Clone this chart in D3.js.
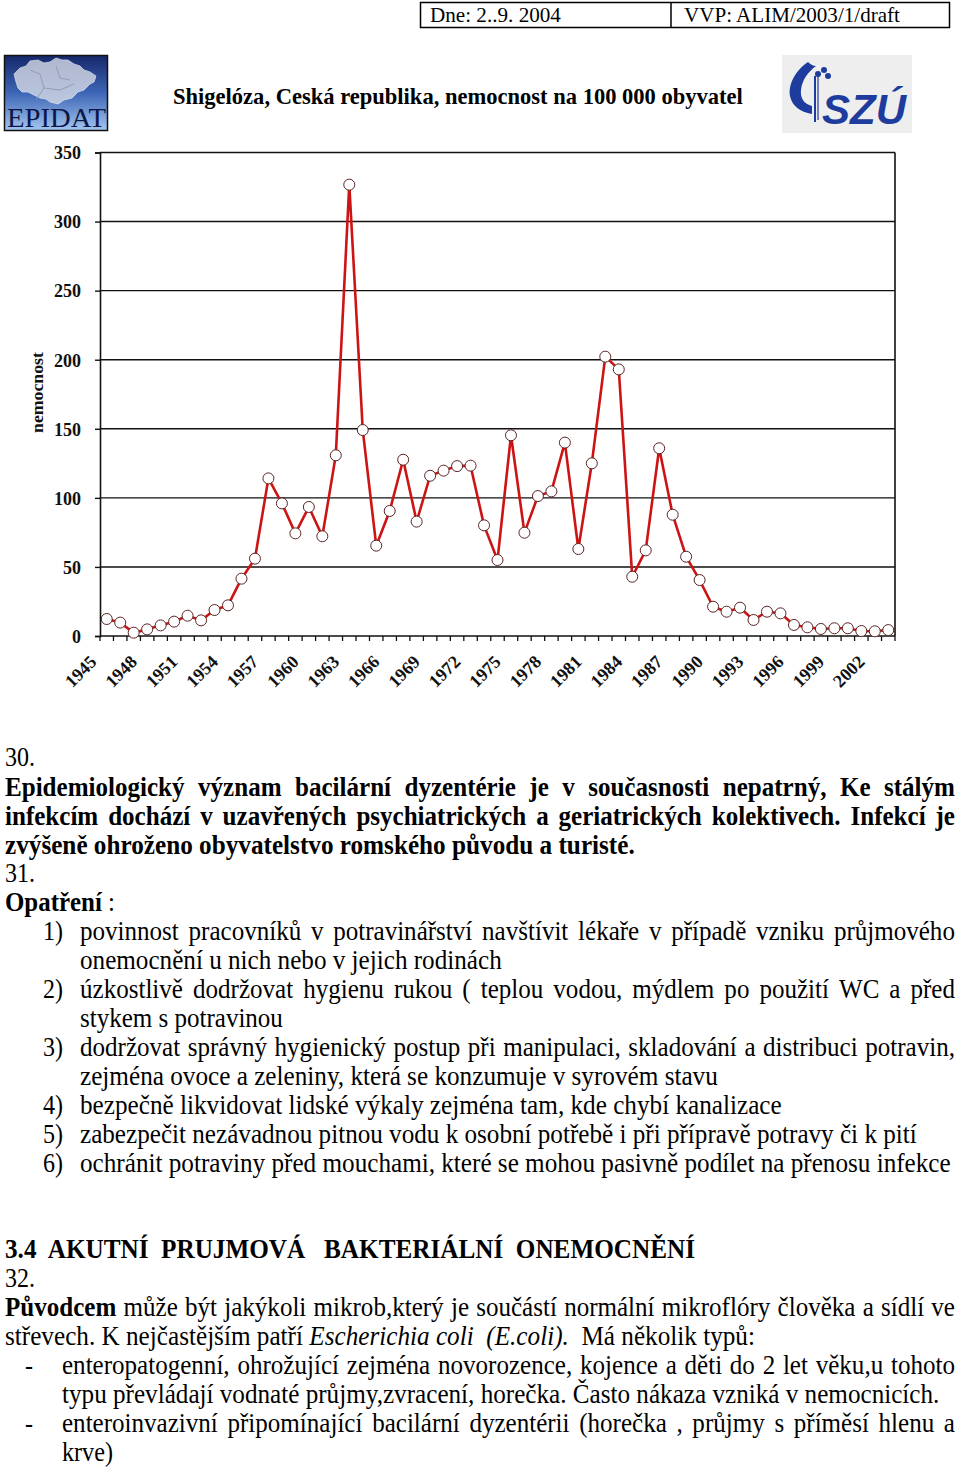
<!DOCTYPE html>
<html><head><meta charset="utf-8">
<script src="https://cdn.jsdelivr.net/npm/d3@7"></script>
<style>
html,body{margin:0;padding:0;background:#fff;}
svg{display:block;}
</style></head>
<body>
<svg id="c" width="960" height="1467" font-family="Liberation Serif"></svg>
<script>
// ---------- DATA ----------
const years = [1945,1946,1947,1948,1949,1950,1951,1952,1953,1954,1955,1956,1957,1958,1959,1960,1961,1962,1963,1964,1965,1966,1967,1968,1969,1970,1971,1972,1973,1974,1975,1976,1977,1978,1979,1980,1981,1982,1983,1984,1985,1986,1987,1988,1989,1990,1991,1992,1993,1994,1995,1996,1997,1998,1999,2000,2001,2002,2003];
const incidence = [12.3,9.7,2.4,4.8,7.7,10.4,14.7,11.3,18.8,22.2,41.5,56,114.1,96,74.3,93.4,72.2,130.8,326.7,149.1,65.4,90.5,127.6,82.8,116,119.7,123,123.3,80.1,55,145.3,74.8,101.3,104.7,140,63,125,202.2,193,42.9,62,135.9,87.8,57.4,40.5,21.2,17.6,20.5,11.6,17.6,16.4,8,6.3,5.1,5.6,5.6,3.6,3.4,4.3];
const xTickLabels = [1945,1948,1951,1954,1957,1960,1963,1966,1969,1972,1975,1978,1981,1984,1987,1990,1993,1996,1999,2002];
const yTicks = [0,50,100,150,200,250,300,350];
const chartTitle = "Shigelóza, Ceská republika, nemocnost na 100 000 obyvatel";
const yLabel = "nemocnost";

const SERIF = "Liberation Serif";
const svg = d3.select("#c");

function fitted(parent, x, y, w, txt, attrs, rot){
  const g = parent.append("g");
  const t = g.append("text").text(txt).style("white-space","pre").attr("font-family",SERIF);
  Object.entries(attrs||{}).forEach(([k,v])=>t.attr(k,v));
  const nat = t.node().getComputedTextLength();
  g.attr("transform",`translate(${x},${y})${rot?` rotate(${rot})`:""} scale(${w/nat},1)`);
  return g;
}

// ---------- header box ----------
svg.append("rect").attr("x",420.5).attr("y",2.5).attr("width",529).attr("height",25)
  .attr("fill","none").attr("stroke","#000").attr("stroke-width",1.5);
svg.append("line").attr("x1",671).attr("x2",671).attr("y1",2.5).attr("y2",27.5).attr("stroke","#000").attr("stroke-width",1.5);
fitted(svg,430,22,131,"Dne: 2..9. 2004",{"font-size":22});
fitted(svg,684,22,216,"VVP: ALIM/2003/1/draft",{"font-size":22});

// ---------- logos ----------
const defs = svg.append("defs");
const lg = defs.append("linearGradient").attr("id","epg").attr("x1",0).attr("y1",0).attr("x2",0).attr("y2",1);
lg.append("stop").attr("offset","0%").attr("stop-color","#16276a");
lg.append("stop").attr("offset","50%").attr("stop-color","#3d66b6");
lg.append("stop").attr("offset","100%").attr("stop-color","#a4c6ee");
svg.append("rect").attr("x",4.5).attr("y",55.5).attr("width",103).attr("height",75)
  .attr("fill","url(#epg)").attr("stroke","#111").attr("stroke-width",1.5);
svg.append("path").attr("d","M14,74 L20,68 L26,66 L30,61 L38,60 L44,63 L50,62 L56,58 L62,60 L68,60 L74,64 L80,66 L84,70 L90,72 L96,76 L94,82 L90,84 L84,90 L78,92 L72,98 L64,100 L58,104 L50,102 L46,99 L40,98 L34,95 L28,92 L22,92 L18,88 L16,82 Z")
  .attr("fill","#d6dbe6").attr("opacity",0.8).attr("stroke","#f4f6fb").attr("stroke-width",0.8);
svg.append("path").attr("d","M30,70 L40,74 L44,88 L36,100 M44,88 L60,90 L74,84 M56,66 L60,78 L70,80")
  .attr("fill","none").attr("stroke","#8a93a8").attr("stroke-width",0.8);
fitted(svg,7,127,99,"EPIDAT",{"font-size":28,"fill":"#0c1748"});

svg.append("rect").attr("x",782).attr("y",55).attr("width",130).attr("height",78).attr("fill","#eeeeee");
svg.append("path").attr("d","M808,62 C796,70 788,84 790,96 C792,106 800,112 812,114 L812,106 C804,104 800,98 801,90 C802,80 808,72 816,66 C813,66 810,64 808,62 Z")
  .attr("fill","#1d3c9e");
svg.append("line").attr("x1",815).attr("x2",815).attr("y1",76).attr("y2",122).attr("stroke","#1d3c9e").attr("stroke-width",2);
svg.append("line").attr("x1",818).attr("x2",818).attr("y1",76).attr("y2",120).attr("stroke","#1d3c9e").attr("stroke-width",1.2);
[[818,74],[824,70],[828,76]].forEach(p=>svg.append("circle").attr("cx",p[0]).attr("cy",p[1]).attr("r",3).attr("fill","#1d3c9e"));
{
  const g = svg.append("g");
  const t = g.append("text").text("SZÚ").attr("font-family","Liberation Sans").attr("font-size",42)
    .attr("font-style","italic").attr("font-weight","bold").attr("fill","#1d3c9e");
  const nat = t.node().getComputedTextLength();
  g.attr("transform",`translate(822,124) scale(${84/nat},1)`);
}

// ---------- chart ----------
fitted(svg,173,104,570,chartTitle,{"font-size":23,"font-weight":"bold"});

const x = d3.scaleBand().domain(years).range([100,895]).paddingInner(0).paddingOuter(0);
const y = d3.scaleLinear().domain([0,350]).range([636,152.5]);
const cx = d => x(d) + x.bandwidth()/2;

const plot = svg.append("g");
plot.selectAll("line.grid").data(yTicks.filter(v=>v>0)).join("line")
  .attr("x1",100).attr("x2",895).attr("y1",d=>y(d)).attr("y2",d=>y(d))
  .attr("stroke","#111").attr("stroke-width",1.4);
plot.append("line").attr("x1",895).attr("x2",895).attr("y1",y(350)).attr("y2",y(0)).attr("stroke","#111").attr("stroke-width",1.6);

const yAxis = svg.append("g").attr("transform","translate(100,0)")
  .call(d3.axisLeft(y).tickValues(yTicks).tickSize(5).tickPadding(14).tickFormat(d3.format("d")));
yAxis.attr("font-family",SERIF);
yAxis.select(".domain").attr("stroke","#111").attr("stroke-width",1.6);
yAxis.selectAll(".tick line").attr("stroke","#111").attr("stroke-width",1.4);
yAxis.selectAll(".tick text").attr("font-family",SERIF)
  .attr("font-size",18).attr("font-weight","bold").attr("fill","#111").attr("dy","0.35em");

svg.append("line").attr("x1",100).attr("x2",895).attr("y1",y(0)).attr("y2",y(0)).attr("stroke","#111").attr("stroke-width",1.6);
const bounds = years.map(d=>x(d)).concat([x.range()[1]]);
svg.selectAll("line.xt").data(bounds).join("line")
  .attr("x1",d=>d).attr("x2",d=>d).attr("y1",y(0)).attr("y2",y(0)+5)
  .attr("stroke","#111").attr("stroke-width",1.3);
svg.selectAll("text.xl").data(xTickLabels).join("text")
  .attr("font-family",SERIF)
  .attr("text-anchor","end").attr("font-size",18).attr("font-weight","bold").attr("fill","#111")
  .attr("transform",d=>`translate(${cx(d)-9},${y(0)+27}) rotate(-45)`)
  .text(d=>d);

// y label (rotated, fitted to 81px)
fitted(svg,43,433,81,yLabel,{"font-size":17,"font-weight":"bold","fill":"#111"},-90);

// line + markers
const line = d3.line().x((d,i)=>cx(years[i])).y(d=>y(d));
svg.append("path").datum(incidence).attr("d",line).attr("fill","none")
  .attr("stroke","#cc1414").attr("stroke-width",2.6).attr("stroke-linejoin","round");
svg.selectAll("circle.pt").data(incidence).join("circle")
  .attr("cx",(d,i)=>cx(years[i])).attr("cy",d=>y(d)).attr("r",5.5)
  .attr("fill","#fff").attr("stroke","#5a2424").attr("stroke-width",1);

// ---------- body text ----------
const N="n",B="b",I="i";
const body = [
  {x:5,y:766,w:30,segs:[["30.",N]]},
  {x:5,y:796,w:950,j:1,segs:[["Epidemiologický význam bacilární dyzentérie je v současnosti nepatrný, Ke stálým",B]]},
  {x:5,y:825,w:950,j:1,segs:[["infekcím dochází v uzavřených psychiatrických a geriatrických kolektivech. Infekcí je",B]]},
  {x:5,y:854,w:630,segs:[["zvýšeně ohroženo obyvatelstvo romského původu a turisté.",B]]},
  {x:5,y:882,w:30,segs:[["31.",N]]},
  {x:5,y:911,w:110,segs:[["Opatření",B],[" :",N]]},
  {x:43,y:940,w:20,segs:[["1)",N]]},
  {x:80,y:940,w:875,j:1,segs:[["povinnost pracovníků v potravinářství navštívit lékaře v případě vzniku průjmového",N]]},
  {x:80,y:969,w:422,segs:[["onemocnění u nich nebo v jejich rodinách",N]]},
  {x:43,y:998,w:20,segs:[["2)",N]]},
  {x:80,y:998,w:875,j:1,segs:[["úzkostlivě dodržovat hygienu rukou ( teplou vodou, mýdlem po použití WC a před",N]]},
  {x:80,y:1027,w:203,segs:[["stykem s potravinou",N]]},
  {x:43,y:1056,w:20,segs:[["3)",N]]},
  {x:80,y:1056,w:875,j:1,segs:[["dodržovat správný hygienický postup při manipulaci, skladování a distribuci potravin,",N]]},
  {x:80,y:1085,w:638,segs:[["zejména ovoce a zeleniny, která se konzumuje v syrovém stavu",N]]},
  {x:43,y:1114,w:20,segs:[["4)",N]]},
  {x:80,y:1114,w:702,segs:[["bezpečně likvidovat lidské výkaly zejména tam, kde chybí kanalizace",N]]},
  {x:43,y:1143,w:20,segs:[["5)",N]]},
  {x:80,y:1143,w:837,segs:[["zabezpečit nezávadnou pitnou vodu k osobní potřebě i při přípravě potravy či k pití",N]]},
  {x:43,y:1172,w:20,segs:[["6)",N]]},
  {x:80,y:1172,w:871,segs:[["ochránit potraviny před mouchami, které se mohou pasivně podílet na přenosu infekce",N]]},
  {x:5,y:1258,w:690,segs:[["3.4  AKUTNÍ  PRUJMOVÁ   BAKTERIÁLNÍ  ONEMOCNĚNÍ",B]]},
  {x:5,y:1287,w:30,segs:[["32.",N]]},
  {x:5,y:1316,w:950,j:1,segs:[["Původcem",B],[" může být jakýkoli mikrob,který je součástí normální mikroflóry člověka a sídlí ve",N]]},
  {x:5,y:1345,w:750,segs:[["střevech. K nejčastějším patří ",N],["Escherichia coli",I],["  ",N],["(E.coli).",I],["  Má několik typů:",N]]},
  {x:25,y:1374,w:8,segs:[["-",N]]},
  {x:62,y:1374,w:893,j:1,segs:[["enteropatogenní, ohrožující zejména novorozence, kojence a děti do 2 let věku,u tohoto",N]]},
  {x:62,y:1403,w:878,segs:[["typu převládají vodnaté průjmy,zvracení, horečka. Často nákaza vzniká v nemocnicích.",N]]},
  {x:25,y:1432,w:8,segs:[["-",N]]},
  {x:62,y:1432,w:893,j:1,segs:[["enteroinvazivní připomínající bacilární dyzentérii (horečka , průjmy s příměsí hlenu a",N]]},
  {x:62,y:1461,w:51,segs:[["krve)",N]]}
];
const FS = 27;
function styleT(t, st){
  t.attr("font-size",FS).attr("fill","#000").attr("font-family",SERIF);
  if(st===B) t.attr("font-weight","bold");
  if(st===I) t.attr("font-style","italic");
}
const bodyG = svg.append("g").attr("font-family",SERIF);
const scales = [];
body.filter(L=>!L.j).forEach(L=>{
  const g = bodyG.append("g");
  const t = g.append("text").style("white-space","pre").attr("font-family",SERIF).attr("font-size",FS);
  L.segs.forEach(s=>{ const ts=t.append("tspan").text(s[0]); styleT(ts,s[1]); });
  const nat = t.node().getComputedTextLength();
  const s = L.w/nat;
  if(L.segs[0][0].length>4) scales.push(s);
  g.attr("transform",`translate(${L.x},${L.y}) scale(${s},1)`);
});
const S = d3.mean(scales);
body.filter(L=>L.j).forEach(L=>{
  const g = bodyG.append("g");
  const words = [];
  L.segs.forEach(s=>s[0].split(/ +/).filter(w=>w.length).forEach(w=>words.push([w,s[1]])));
  const ws = words.map(w=>{
    const t = g.append("text").text(w[0]); styleT(t,w[1]);
    return {t, w:t.node().getComputedTextLength()};
  });
  const tot = d3.sum(ws,d=>d.w);
  let s = S;
  let gap = (L.w/s - tot)/(words.length-1);
  const minGap = FS*0.2;
  if(gap < minGap){ s = L.w/(tot + minGap*(words.length-1)); gap = minGap; }
  let cxp = 0;
  ws.forEach(d=>{ d.t.attr("x",cxp); cxp += d.w + gap; });
  g.attr("transform",`translate(${L.x},${L.y}) scale(${s},1)`);
});
</script>
</body></html>
